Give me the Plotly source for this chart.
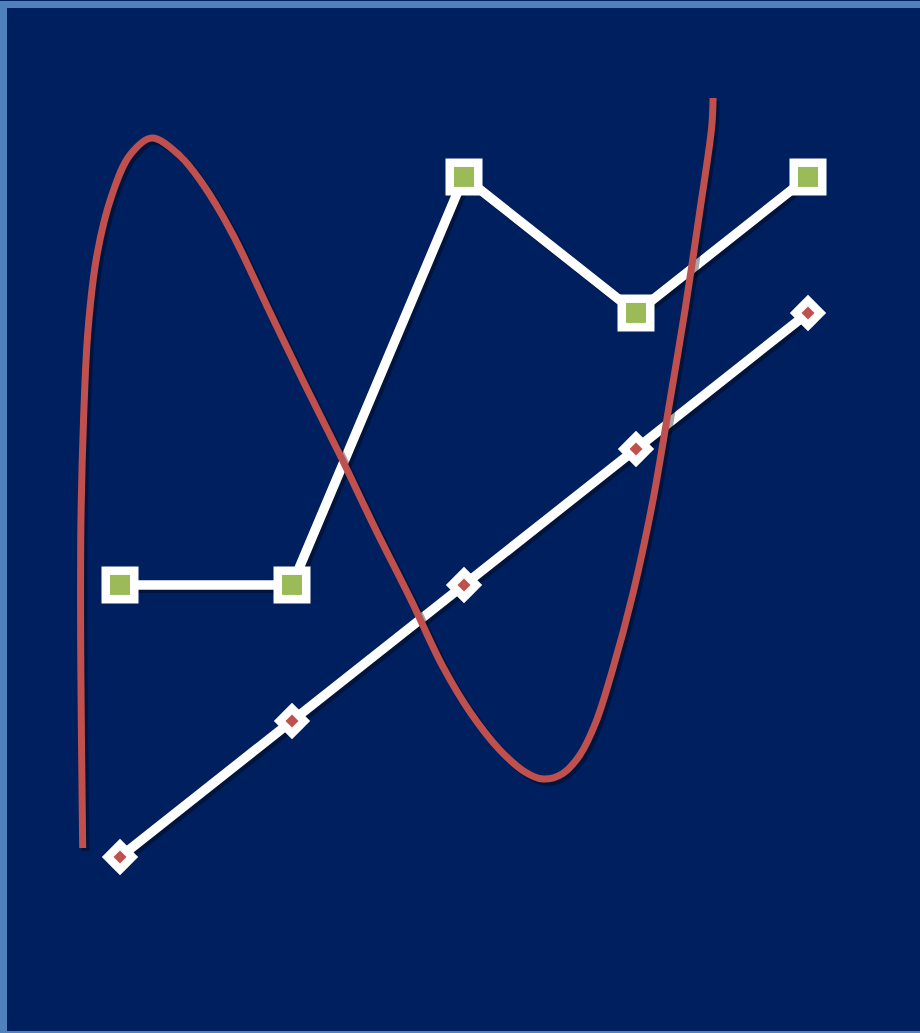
import plotly.graph_objects as go

# Category positions
categories = [1, 2, 3, 4, 5]
# Series values
square_series = [3, 3, 6, 5, 6]
diamond_series = [1, 2, 3, 4, 5]

curve_x = [0.783, 0.776, 0.771, 0.773, 0.788, 0.814, 0.866, 0.953, 1.058, 1.186,
           1.349, 1.477, 1.651, 1.860, 2.076, 2.279, 2.482, 2.692, 2.878, 3.035,
           3.209, 3.355, 3.459, 3.570, 3.674, 3.767, 3.860, 3.983, 4.099, 4.198,
           4.285, 4.372, 4.440, 4.448]
curve_y = [1.066, 1.860, 2.669, 3.477, 4.213, 4.875, 5.426, 5.867, 6.161, 6.286,
           6.154, 5.955, 5.588, 5.036, 4.470, 3.955, 3.419, 2.889, 2.397, 2.066,
           1.786, 1.625, 1.573, 1.610, 1.750, 1.992, 2.360, 2.941, 3.625, 4.360,
           5.022, 5.757, 6.367, 6.580]

W, H = 920, 1033
X_RANGE = [0.3023, 0.3023 + W / 172.0]
Y_RANGE = [7.301 - H / 136.0, 7.301]

BG = "#001f5e"
WHITE = "#ffffff"
GREEN = "#9bbb59"
RED = "#c0504d"
BORDER = "#4f81bd"
SHADOW = "rgba(0,0,0,0.35)"

# shadow offset (in data units, ~3px down-right)
sdx = 3 / 172.0
sdy = -3 / 136.0

fig = go.Figure()

# shadows
for ys in (square_series, diamond_series):
    fig.add_trace(go.Scatter(x=[c + sdx for c in categories], y=[v + sdy for v in ys],
                             mode="lines", line=dict(color=SHADOW, width=10),
                             hoverinfo="skip", showlegend=False))

# square series
fig.add_trace(go.Scatter(x=categories, y=square_series, mode="lines",
                         line=dict(color=WHITE, width=9.5), showlegend=False))
fig.add_trace(go.Scatter(x=categories, y=square_series, mode="markers",
                         marker=dict(symbol="square", size=37, color=WHITE), showlegend=False))
fig.add_trace(go.Scatter(x=categories, y=square_series, mode="markers",
                         marker=dict(symbol="square", size=20, color=GREEN), showlegend=False))

# diamond series
fig.add_trace(go.Scatter(x=categories, y=diamond_series, mode="lines",
                         line=dict(color=WHITE, width=9.5), showlegend=False))
fig.add_trace(go.Scatter(x=categories, y=diamond_series, mode="markers",
                         marker=dict(symbol="diamond", size=28, color=WHITE), showlegend=False))
fig.add_trace(go.Scatter(x=categories, y=diamond_series, mode="markers",
                         marker=dict(symbol="diamond", size=10, color=RED), showlegend=False))

# red curve shadow + curve
fig.add_trace(go.Scatter(x=[c + sdx for c in curve_x], y=[v + sdy for v in curve_y],
                         mode="lines", line=dict(color=SHADOW, width=7.5, shape="spline", smoothing=1),
                         hoverinfo="skip", showlegend=False))
fig.add_trace(go.Scatter(x=curve_x, y=curve_y, mode="lines",
                         line=dict(color=RED, width=7, shape="spline", smoothing=1),
                         showlegend=False))

fig.update_layout(
    width=W, height=H,
    margin=dict(l=0, r=0, t=0, b=0),
    paper_bgcolor=BG, plot_bgcolor=BG,
    xaxis=dict(range=X_RANGE, visible=False, fixedrange=True),
    yaxis=dict(range=Y_RANGE, visible=False, fixedrange=True),
    shapes=[dict(type="rect", xref="paper", yref="paper",
                 x0=3.5 / W, x1=1 + 5 / W, y0=-1.5 / H, y1=1 - 4.5 / H,
                 line=dict(color=BORDER, width=7), fillcolor="rgba(0,0,0,0)", layer="above")],
)

fig.write_html(
    "out.html",
    config={"displayModeBar": False},
    post_script="document.body.style.margin='0';document.body.style.overflow='hidden';"
                "document.documentElement.style.background='" + BG + "';",
)
